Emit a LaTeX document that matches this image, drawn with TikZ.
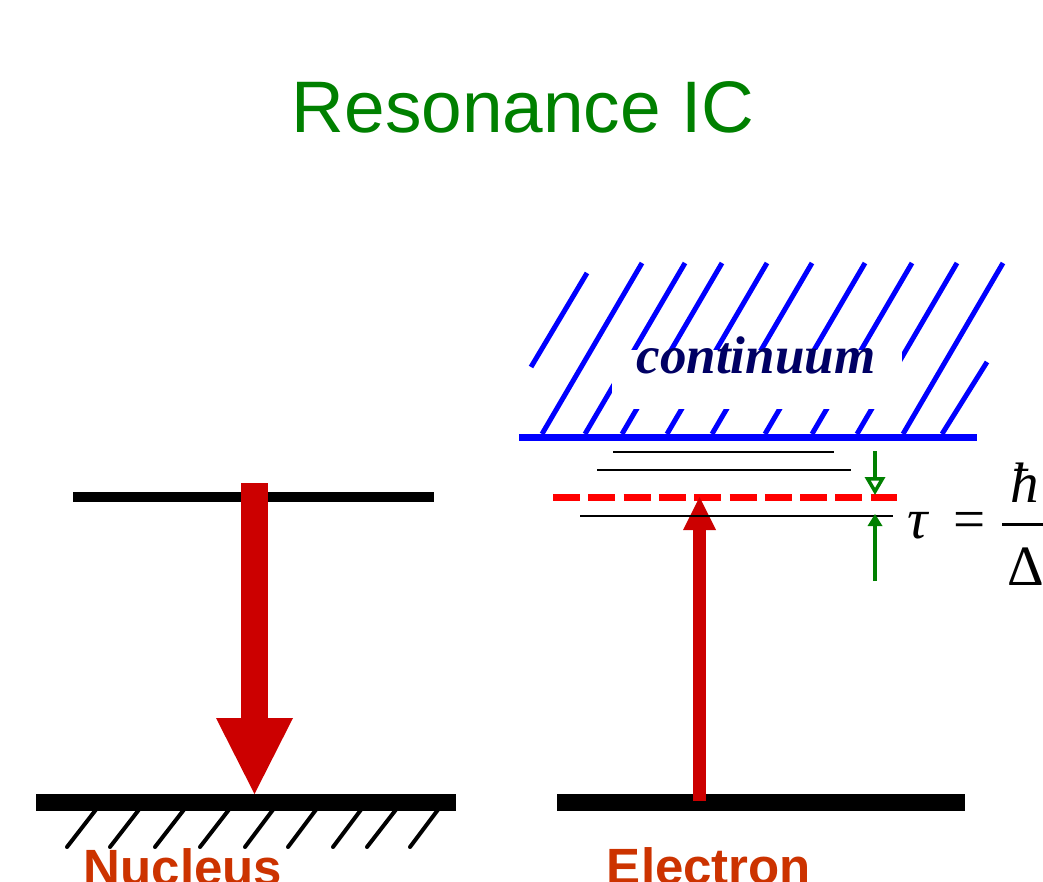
\documentclass[tikz,border=0pt]{standalone}
\usepackage{fontspec}
\setmainfont{Liberation Serif}
\newfontfamily\arialfont{Liberation Sans}
\usetikzlibrary{arrows.meta}
\definecolor{titlegreen}{RGB}{0,128,0}
\definecolor{arrowred}{RGB}{204,0,0}
\definecolor{dashred}{RGB}{255,0,0}
\definecolor{labelred}{RGB}{204,51,0}
\definecolor{navytext}{RGB}{0,0,100}
\definecolor{hatchblue}{RGB}{0,0,255}
\tikzset{
  level/.style={line width=10pt, black},
  ground/.style={line width=17pt, black},
  thinlevel/.style={line width=2.5pt, black},
  hatchblk/.style={line width=4pt, black, line cap=round},
  hatchblu/.style={line width=5pt, hatchblue},
  bigarrow/.style={line width=27pt, arrowred, -{Triangle[width=77pt,length=76pt,line width=0pt]}},
  smallarrow/.style={line width=13pt, arrowred, -{Triangle[width=33pt,length=33pt,line width=0pt]}},
  greenopen/.style={line width=4pt, titlegreen, -{Triangle[open,width=20pt,length=18pt,line width=3.5pt]}},
  greenfill/.style={line width=4pt, titlegreen, -{Triangle[width=15pt,length=12pt,line width=0pt]}},
  labeltext/.style={font=\arialfont\bfseries\fontsize{51}{51}\selectfont, text=labelred, anchor=base, inner sep=0pt},
  mathtext/.style={font=\fontsize{57}{57}\selectfont, anchor=base west, inner sep=0pt}
}
\begin{document}
\begin{tikzpicture}[x=1pt,y=-1pt]
\useasboundingbox (0,0) rectangle (1043,882);
\clip (0,0) rectangle (1043,882);
\fill[white] (0,0) rectangle (1043,882);

% title
\node[font=\arialfont\fontsize{73}{73}\selectfont, text=titlegreen, anchor=base, inner sep=0pt] (title) at (523,133) {Resonance IC};

% ---------------- Nucleus ----------------
\coordinate (nupL) at (73,497);
\coordinate (nupR) at (434,497);
\coordinate (ngL) at (36,802.5);
\coordinate (ngR) at (456,802.5);
\draw[level] (nupL) -- (nupR);
\draw[ground] (ngL) -- (ngR);
\foreach \t/\b in {95/67,138/110,183/155,228/200,272/245,315/288,360/333,395/367,437/410}
  \draw[hatchblk] (\t+3,807) -- (\b,847);
\coordinate (narrS) at (254.5,483);
\coordinate (narrE) at (254.5,794);
\draw[bigarrow] (narrS) -- (narrE);
\node[labeltext] (nucleus) at (183,885.5) {Nucleus};

% ---------------- Electron ----------------
% continuum hatching
\foreach \t in {642,685,722,767,812,865,912,957,1003}
  \draw[hatchblu] (\t,263) -- (\t-100,434);
\draw[hatchblu] (587,273) -- (531,367);
\draw[hatchblu] (987,362) -- (942,434);
\fill[white] (612,350) rectangle (902,409);
\node[font=\bfseries\itshape\fontsize{53}{53}\selectfont, text=navytext, anchor=base, inner sep=0pt] (cont) at (756,373) {continuum};
\coordinate (cL) at (519,437);
\coordinate (cR) at (977,437);
\draw[line width=7pt, hatchblue] (cL) -- (cR);

% bound levels
\coordinate (l1L) at (613,452); \coordinate (l1R) at (834,452);
\coordinate (l2L) at (597,470); \coordinate (l2R) at (851,470);
\coordinate (l3L) at (580,516); \coordinate (l3R) at (893,516);
\coordinate (dL) at (553,497); \coordinate (dR) at (897,497);
\draw[thinlevel] (l1L) -- (l1R);
\draw[thinlevel] (l2L) -- (l2R);
\draw[line width=7pt, dashred, dash pattern=on 27pt off 8.3pt] (dL) -- (dR);

% electron ground
\coordinate (egL) at (557,802.5);
\coordinate (egR) at (965,802.5);
\draw[ground] (egL) -- (egR);
\coordinate (earrS) at (699.5,801);
\coordinate (earrE) at (699.5,497);
\draw[smallarrow] (earrS) -- (earrE);
\draw[thinlevel] (l3L) -- (l3R);

% width arrows
\coordinate (gTop) at (875,451);
\coordinate (gTopE) at (875,495);
\coordinate (gBot) at (875,581);
\coordinate (gBotE) at (875,514);
\draw[greenopen] (gTop) -- (gTopE);
\draw[greenfill] (gBot) -- (gBotE);

% formula
\node[mathtext] (tau) at (907,538) {\textit{τ}};
\node[mathtext] (eq) at (953,538) {=};
\node[mathtext] (hbar) at (1010,502) {\textit{ħ}};
\node[mathtext] (delta) at (1007,585) {Δ};
\coordinate (fracL) at (1002,524);
\coordinate (fracR) at (1060,524);
\draw[line width=3pt] (fracL) -- (fracR);

\node[labeltext] (electron) at (709,884.5) {Electron};
\end{tikzpicture}
\end{document}
